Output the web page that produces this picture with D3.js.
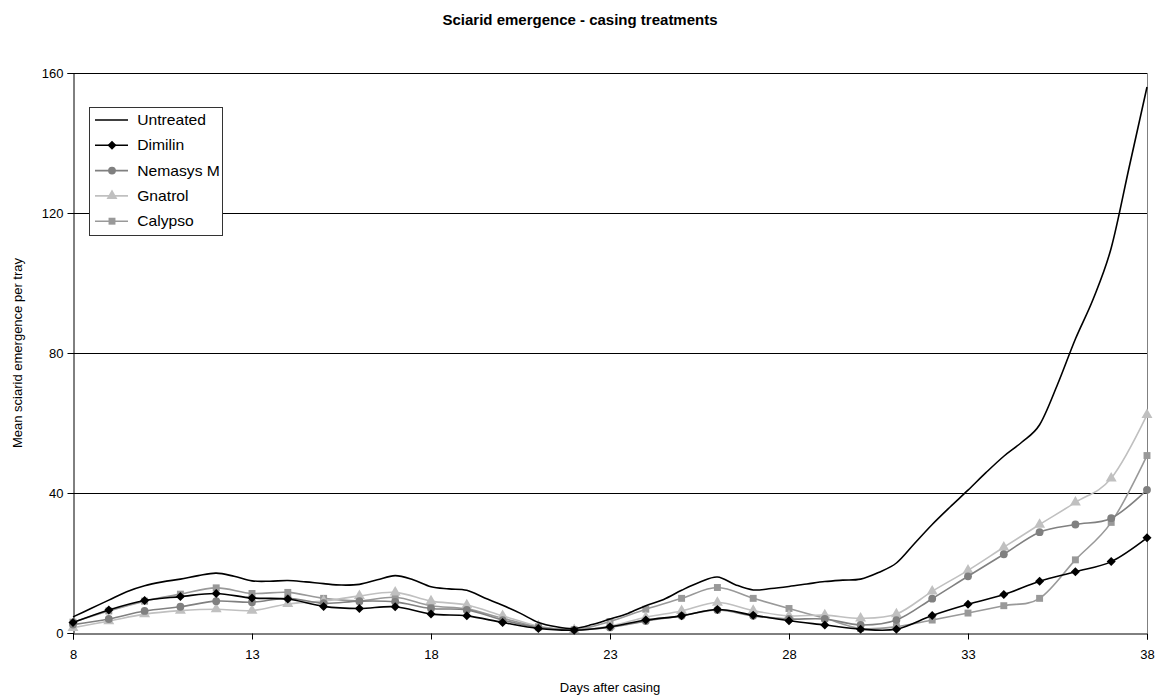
<!DOCTYPE html>
<html>
<head>
<meta charset="utf-8">
<script src="https://cdn.jsdelivr.net/npm/d3@7"></script>
<style>
  body { margin: 0; background: #fff; }
  svg { display: block; font-family: "Liberation Sans", Arial, sans-serif; }
</style>
</head>
<body>
<div class="graph"></div>
<script>
"use strict";

// daily sample days for the treated series
var days = [8, 9, 10, 11, 12, 13, 14, 15, 16, 17, 18, 19, 20, 21, 22, 23,
    24, 25, 26, 27, 28, 29, 30, 31, 32, 33, 34, 35, 36, 37, 38];

// untreated was logged twice a day
var untreatedDays = [8, 8.5, 9, 9.5, 10, 10.5, 11, 11.5, 12, 12.5, 13, 13.5, 14, 14.5,
    15, 15.5, 16, 16.5, 17, 17.5, 18, 18.5, 19, 19.5, 20, 20.5, 21, 21.5, 22, 22.5,
    23, 23.5, 24, 24.5, 25, 25.5, 26, 26.5, 27, 27.5, 28, 28.5, 29, 29.5, 30, 30.5,
    31, 31.5, 32, 32.5, 33, 33.5, 34, 34.5, 35, 35.5, 36, 36.5, 37, 37.5, 38];
var untreated = [4.6, 7, 9.4, 11.8, 13.5, 14.6, 15.4, 16.4, 17.1, 16.2, 14.9, 14.8, 15, 14.6,
    14.1, 13.7, 13.9, 15.2, 16.4, 15.2, 13.2, 12.6, 12.2, 10, 7.9, 5.6, 3, 1.8, 1.3, 2.4,
    4, 5.6, 7.8, 9.6, 12.2, 14.5, 16, 13.8, 12.3, 12.7, 13.3, 14, 14.7, 15.1, 15.4, 17.3,
    20, 25.5, 31, 36, 40.8, 45.8, 50.5, 54.5, 59.5, 71, 84, 95.5, 110, 133, 156];

var dimilin = [3, 6.6, 9.3, 10.4, 11.3, 10, 9.7, 7.6, 7, 7.5, 5.4, 4.9, 3, 1.3, 0.8, 1.8,
    3.7, 4.9, 6.7, 5.1, 3.5, 2.3, 1.1, 1.1, 5, 8.2, 11, 14.8, 17.5, 20.4, 27.2];
var nemasys = [2.4, 4, 6.3, 7.5, 9.1, 8.8, 9.9, 8.5, 9.1, 8.9, 7, 6.6, 3.7, 1.6, 0.9, 1.6,
    3.4, 4.9, 6.6, 4.9, 4, 4, 2.3, 3.7, 9.8, 16.2, 22.5, 28.8, 31, 32.8, 40.9];
var gnatrol = [1.5, 3.4, 5.4, 6.4, 6.8, 6.4, 8.3, 9.1, 10.6, 11.6, 9.1, 8, 4.9, 2, 0.9, 2,
    4.5, 6.3, 8.7, 6.4, 4.9, 5.1, 4.2, 5.4, 11.9, 17.9, 24.5, 31, 37.3, 44.2, 62.3];
var calypso = [3.1, 6.3, 9.1, 11.1, 12.9, 11.3, 11.6, 9.9, 9.2, 10.2, 7.8, 6.9, 4.2, 1.8, 0.9, 3.3,
    6.8, 9.9, 13, 9.9, 7, 4.2, 1.3, 1.8, 3.7, 5.7, 7.8, 9.9, 20.9, 31.6, 50.7];

var yTicks = [0, 40, 80, 120, 160];
var xTicks = [8, 13, 18, 23, 28, 33, 38];

var seriesNames = ["Untreated", "Dimilin", "Nemasys M", "Gnatrol", "Calypso"];
var seriesColors = ["#000000", "#000000", "#808080", "#c0c0c0", "#999999"];
var seriesSymbols = [null, d3.symbolDiamond2, d3.symbolCircle, d3.symbolTriangle, d3.symbolSquare];
var symbolSizes = [0, 52, 48, 52, 48];

var width = 1161;
var height = 700;
var plotLeft = 73;
var plotRight = 1147;
var plotTop = 73;
var plotBottom = 633;

var svg = d3.select(".graph").append("svg:svg").attr("width", width).attr("height", height);

var xScale = d3.scaleLinear().domain([8, 38]).range([plotLeft, plotRight]);
var yScale = d3.scaleLinear().domain([0, 160]).range([plotBottom, plotTop]);

// gridlines
svg.append("g").selectAll("line").data(yTicks.slice(1)).enter().append("line")
    .attr("x1", plotLeft).attr("x2", plotRight)
    .attr("y1", function (d) { return Math.round(yScale(d)) + 0.5; })
    .attr("y2", function (d) { return Math.round(yScale(d)) + 0.5; })
    .attr("stroke", "#000").attr("stroke-width", 1);

// right border of the plot area
svg.append("line").attr("x1", plotRight + 0.5).attr("x2", plotRight + 0.5)
    .attr("y1", plotTop).attr("y2", plotBottom)
    .attr("stroke", "#808080").attr("stroke-width", 1);

var yAxis = d3.axisLeft(yScale).tickValues(yTicks).tickSize(6).tickPadding(4);
var gy = svg.append("g").attr("transform", "translate(" + (plotLeft + 0.5) + ",0)").call(yAxis);

var xAxis = d3.axisBottom(xScale).tickValues(xTicks).tickSize(6).tickPadding(10);
var gx = svg.append("g").attr("transform", "translate(0," + (plotBottom + 0.5) + ")").call(xAxis);

[gx, gy].forEach(function (g) {
    g.select(".domain").attr("stroke", "#000");
    g.selectAll(".tick line").attr("stroke", "#000");
    g.selectAll(".tick text").attr("font-size", 13).attr("fill", "#000")
        .attr("font-family", "Liberation Sans, Arial, sans-serif");
});

var line = d3.line().curve(d3.curveCardinal.tension(0));

var series = [
    { x: untreatedDays, y: untreated },
    { x: days, y: dimilin },
    { x: days, y: nemasys },
    { x: days, y: gnatrol },
    { x: days, y: calypso }
];

var drawOrder = [4, 3, 2, 1, 0];
drawOrder.forEach(function (i) {
    var s = series[i];
    var pts = s.x.map(function (d, j) { return [xScale(d), yScale(s.y[j])]; });
    svg.append("path").attr("d", line(pts)).attr("fill", "none")
        .attr("stroke", seriesColors[i]).attr("stroke-width", 1.6);
    if (seriesSymbols[i]) {
        svg.append("g").selectAll("path").data(pts).enter().append("path")
            .attr("transform", function (p) { return "translate(" + p[0] + "," + p[1] + ")"; })
            .attr("d", d3.symbol().type(seriesSymbols[i]).size(symbolSizes[i]))
            .attr("fill", seriesColors[i]);
    }
});

// legend
var legend = svg.append("g").attr("transform", "translate(89,107)");
legend.append("rect").attr("x", 0.5).attr("y", 0.5).attr("width", 133).attr("height", 128)
    .attr("fill", "#fff").attr("stroke", "#333").attr("stroke-width", 1);
seriesNames.forEach(function (name, i) {
    var row = legend.append("g").attr("transform", "translate(0," + (13 + i * 25.3) + ")");
    row.append("line").attr("x1", 6).attr("x2", 39).attr("y1", 0).attr("y2", 0)
        .attr("stroke", seriesColors[i]).attr("stroke-width", 1.6);
    if (seriesSymbols[i]) {
        row.append("path").attr("transform", "translate(23,0)")
            .attr("d", d3.symbol().type(seriesSymbols[i]).size(symbolSizes[i]))
            .attr("fill", seriesColors[i]);
    }
    row.append("text").attr("x", 43).attr("y", 0).attr("dy", "0.35em")
        .attr("font-size", 14).attr("transform", "scale(1.12,1)").attr("fill", "#000").text(name);
});

// titles
svg.append("text").attr("x", 580).attr("y", 25).attr("text-anchor", "middle")
    .attr("font-size", 15).attr("font-weight", "bold").text("Sciarid emergence - casing treatments");
svg.append("text").attr("x", (plotLeft + plotRight) / 2).attr("y", 692).attr("text-anchor", "middle")
    .attr("font-size", 13).text("Days after casing");
svg.append("text").attr("transform", "translate(22," + ((plotTop + plotBottom) / 2) + ") rotate(-90)")
    .attr("text-anchor", "middle").attr("font-size", 13).text("Mean sciarid emergence per tray");
</script>
</body>
</html>
